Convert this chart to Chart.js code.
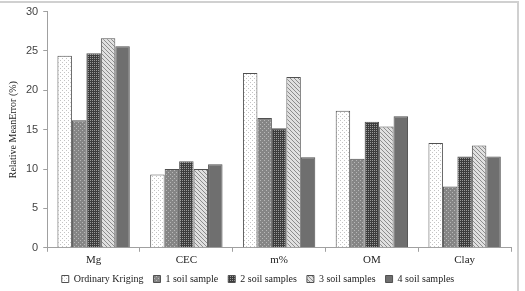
<!DOCTYPE html>
<html>
<head>
<meta charset="utf-8">
<script src="https://cdn.jsdelivr.net/npm/chart.js@4/dist/chart.umd.min.js"></script>
<style>
    html, body { margin: 0; padding: 0; background: #fff; }
    #wrap {
        position: relative;
        width: 525px;
        height: 291px;
        overflow: hidden;
    }
    #frame {
        position: absolute;
        left: -2px; top: 1px;
        width: 521px; height: 300px;
        border: 2px solid #d0d0d0;
        box-sizing: border-box;
        pointer-events: none;
    }
</style>
</head>
<body>
<div id="wrap">
    <canvas id="errorChart" width="525" height="291"></canvas>
    <div id="frame"></div>
</div>
<script>
// Soil properties (categories)
const properties = ['Mg', 'CEC', 'm%', 'OM', 'Clay'];

// Relative mean error (%) per method
const ordinaryKriging = [24.4, 9.3, 22.2, 17.4, 13.3];
const oneSample = [16.2, 10.0, 16.5, 11.3, 7.8];
const twoSamples = [24.7, 11.0, 15.2, 16.0, 11.6];
const threeSamples = [26.6, 10.0, 21.7, 15.4, 13.0];
const fourSamples = [25.6, 10.6, 11.5, 16.7, 11.6];

const yTicks = [0, 5, 10, 15, 20, 25, 30];

// small repeating tiles to mimic the grey hatch fills
function makePattern(size, bg, paint) {
    const c = document.createElement('canvas');
    c.width = size;
    c.height = size;
    const g = c.getContext('2d');
    g.fillStyle = bg;
    g.fillRect(0, 0, size, size);
    paint(g);
    return g.createPattern(c, 'repeat');
}

const chartCtx = document.getElementById('errorChart').getContext('2d');

const fills = {
    kriging: makePattern(4, '#ffffff', g => {
        g.fillStyle = '#c4c4c4';
        g.fillRect(0, 0, 1, 1);
        g.fillRect(2, 2, 1, 1);
    }),
    one: makePattern(4, '#858585', g => {
        g.fillStyle = '#b8b8b8';
        g.fillRect(0, 0, 1, 1);
        g.fillRect(2, 2, 1, 1);
    }),
    two: makePattern(2, '#3c3c3c', g => {
        g.fillStyle = '#9a9a9a';
        g.fillRect(0, 0, 1, 1);
    }),
    three: makePattern(4, '#e0e0e0', g => {
        g.fillStyle = '#8c8c8c';
        for (let i = 0; i < 4; i++) {
            g.fillRect(i, i, 1, 1);
        }
    }),
    four: '#6f6f6f'
};

function series(label, data, fill) {
    return {
        label: label,
        data: data,
        backgroundColor: fill,
        borderColor: '#505050',
        borderWidth: 1,
        borderSkipped: 'bottom',
        categoryPercentage: 0.78,
        barPercentage: 1.0
    };
}

new Chart(chartCtx, {
    type: 'bar',
    data: {
        labels: properties,
        datasets: [
            series('Ordinary Kriging', ordinaryKriging, fills.kriging),
            series('1 soil sample', oneSample, fills.one),
            series('2 soil samples', twoSamples, fills.two),
            series('3 soil samples', threeSamples, fills.three),
            series('4 soil samples', fourSamples, fills.four)
        ]
    },
    options: {
        responsive: false,
        animation: false,
        devicePixelRatio: 1,
        layout: {
            padding: { left: 5, right: 14, top: 10, bottom: -3 }
        },
        scales: {
            x: {
                grid: {
                    display: true,
                    offset: true,
                    drawOnChartArea: false,
                    drawTicks: true,
                    tickLength: 4,
                    color: '#a0a0a0'
                },
                border: { color: '#a0a0a0', width: 1 },
                ticks: {
                    color: '#222',
                    font: { family: 'Liberation Serif', size: 11 },
                    padding: 2
                }
            },
            y: {
                min: 0,
                max: 30,
                afterBuildTicks: axis => {
                    axis.ticks = yTicks.map(v => ({ value: v }));
                },
                grid: {
                    display: true,
                    drawOnChartArea: false,
                    drawTicks: true,
                    tickLength: 4,
                    color: '#a0a0a0'
                },
                border: { color: '#a0a0a0', width: 1 },
                ticks: {
                    color: '#444',
                    font: { family: 'Liberation Sans', size: 11 },
                    padding: 5
                },
                title: {
                    display: true,
                    text: 'Relative MeanError (%)',
                    color: '#222',
                    font: { family: 'Liberation Serif', size: 10 },
                    padding: { top: 2, bottom: 2 }
                }
            }
        },
        plugins: {
            legend: {
                position: 'bottom',
                labels: {
                    boxWidth: 7,
                    boxHeight: 7,
                    padding: 5,
                    color: '#222',
                    font: { family: 'Liberation Serif', size: 10 },
                    // widen the gap between entries without adding vertical padding
                    generateLabels: chart => {
                        const items = Chart.defaults.plugins.legend.labels.generateLabels(chart);
                        items.forEach((item, i) => {
                            if (i < items.length - 1) item.text += '\u00a0\u00a0';
                        });
                        return items;
                    }
                }
            },
            tooltip: { enabled: false }
        }
    }
});
</script>
</body>
</html>
